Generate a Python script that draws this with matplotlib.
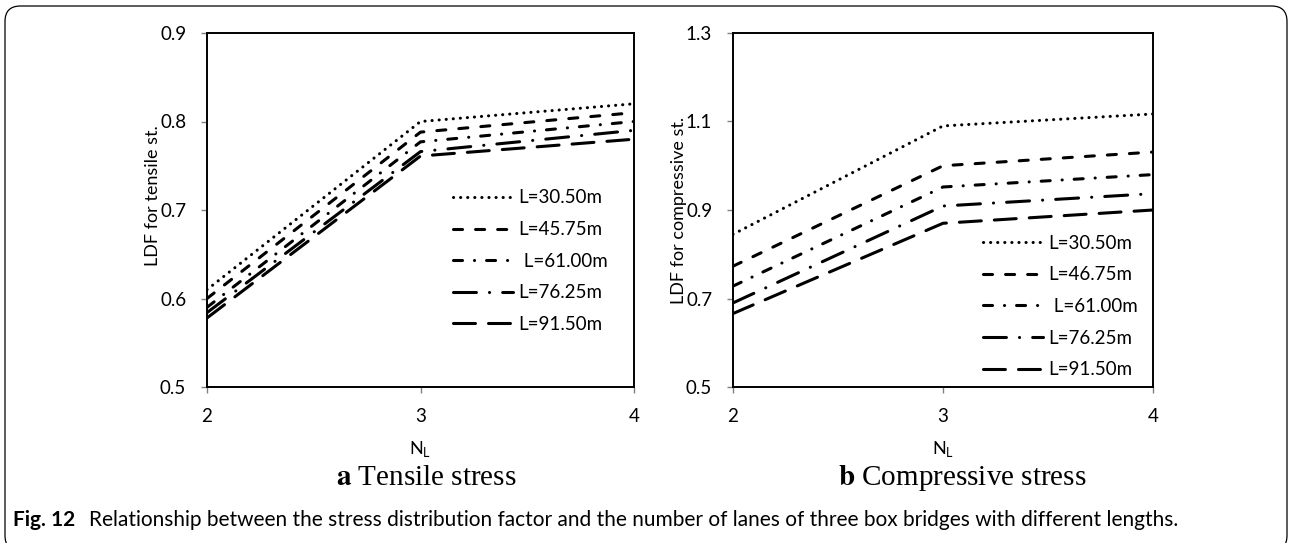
import matplotlib
matplotlib.use("Agg")
import matplotlib.pyplot as plt
from matplotlib.patches import FancyBboxPatch

plt.rcParams["font.family"] = ["Lato", "DejaVu Sans"]
plt.rcParams["lines.scale_dashes"] = False

# Number of lanes on the x axis
lanes = [2, 3, 4]

tensile_labels = ["L=30.50m", "L=45.75m", " L=61.00m", "L=76.25m", "L=91.50m"]
compressive_labels = ["L=30.50m", "L=46.75m", " L=61.00m", "L=76.25m", "L=91.50m"]

tensile_305 = [0.61, 0.80, 0.82]
tensile_4575 = [0.60, 0.788, 0.81]
tensile_610 = [0.59, 0.777, 0.80]
tensile_7625 = [0.584, 0.766, 0.79]
tensile_915 = [0.578, 0.761, 0.78]

compressive_305 = [0.845, 1.09, 1.117]
compressive_4675 = [0.773, 1.00, 1.031]
compressive_610 = [0.728, 0.952, 0.98]
compressive_7625 = [0.69, 0.909, 0.937]
compressive_915 = [0.666, 0.87, 0.90]

tensile_ticks = [0.5, 0.6, 0.7, 0.8, 0.9]
compressive_ticks = [0.5, 0.7, 0.9, 1.1, 1.3]

# Excel-like dash patterns (points, unscaled)
styles = [
  (0, (0.1, 5.0)),                    # round dot
  (0, (6.5, 9.4)),                    # dash
  (0, (6.5, 8.6, 0.1, 8.6)),          # dash dot
  (0, (16.5, 9.4, 0.1, 9.4)),         # long dash dot
  (0, (15.8, 9.4)),                   # long dash
]

W, H = 1290, 543
fig = plt.figure(figsize=(W / 100, H / 100), dpi=100)

# Rounded frame around the whole figure
frame = FancyBboxPatch((5 / W, -8 / H), 1282 / W, 545 / H,
  boxstyle="round,pad=0,rounding_size=0.012", transform=fig.transFigure,
  fill=False, edgecolor="black", linewidth=0.9, mutation_aspect=W / H)
fig.patches.append(frame)


def draw_panel(rect, series, labels, ylim, yticks, ylabel, ylabel_pos, legend_anchor):
  ax = fig.add_axes(rect)
  for values, label, ls in zip(series, labels, styles):
    ax.plot(lanes, values, color="black", linewidth=2.2, linestyle=ls,
      dash_capstyle="round", solid_capstyle="round", label=label)
  ax.set_xlim(2, 4)
  ax.set_ylim(*ylim)
  ax.set_xticks(lanes)
  ax.set_yticks(yticks)
  ax.set_yticklabels([f"{t:.1f}" for t in yticks])
  for spine in ax.spines.values():
    spine.set_linewidth(1.4)
    spine.set_color("black")
  ax.tick_params(direction="out", length=4, width=1, color="#808080",
    labelsize=13.5, pad=11)
  ax.set_xlabel("N$_\\mathregular{L}$", fontsize=13)
  ax.xaxis.set_label_coords(0.5, -0.148)
  ax.set_ylabel(ylabel, fontsize=13)
  ax.yaxis.set_label_coords(*ylabel_pos)
  ax.legend(loc="upper left", bbox_to_anchor=legend_anchor, frameon=False,
    fontsize=13.5, handlelength=3.2, handletextpad=0.3, labelspacing=0.78,
    borderpad=0, borderaxespad=0)
  return ax


draw_panel([207 / W, 1 - 387 / H, 427 / W, 354 / H],
  [tensile_305, tensile_4575, tensile_610, tensile_7625, tensile_915],
  tensile_labels, (0.5, 0.9), tensile_ticks, "LDF for tensile st.",
  (-0.108, 0.54), (0.576, 0.558))

draw_panel([733 / W, 1 - 387 / H, 420 / W, 354 / H],
  [compressive_305, compressive_4675, compressive_610, compressive_7625, compressive_915],
  compressive_labels, (0.5, 1.3), compressive_ticks, "LDF for compressive st.",
  (-0.11, 0.5), (0.595, 0.43))

# Panel titles
fig.text(426 / W, 1 - 478 / H, "$\\mathbf{a}$ Tensile stress", family="Liberation Serif",
  fontsize=21, ha="center", va="center", math_fontfamily="stix")
fig.text(962 / W, 1 - 478 / H, "$\\mathbf{b}$ Compressive stress", family="Liberation Serif",
  fontsize=21, ha="center", va="center", math_fontfamily="stix")

# Figure caption
fig.text(13 / W, 1 - 520 / H, "Fig. 12", fontsize=15, fontweight="bold", va="center")
fig.text(89 / W, 1 - 520 / H,
  "Relationship between the stress distribution factor and the number of lanes of three box bridges with different lengths.",
  fontsize=15, va="center")

fig.savefig("out.png", dpi=100)
